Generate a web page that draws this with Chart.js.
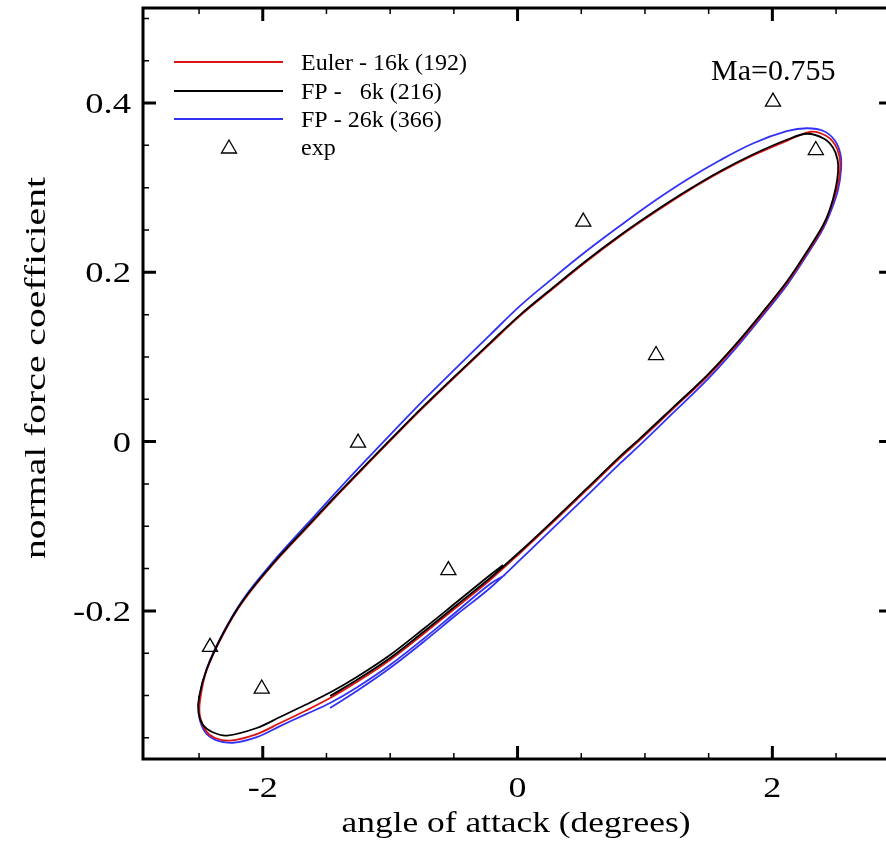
<!DOCTYPE html>
<html>
<head>
<meta charset="utf-8">
<script src="https://cdn.jsdelivr.net/npm/chart.js@4.4.1/dist/chart.umd.min.js"></script>
<style>
  html, body { margin: 0; padding: 0; background: #fff; overflow: hidden; }
  #wrap { width: 886px; height: 842px; }
</style>
</head>
<body>
<div id="wrap"><canvas id="loop" width="886" height="842"></canvas></div>
<script>
// values
const eulerAlpha = [-1.4717, -1.2622, -1.0008, -0.7394, -0.4772, -0.2159, 0.0196, 0.2810, 0.5432, 0.8046, 0.9616, 1.2206, 1.4874, 1.6915, 1.9035, 2.1154, 2.2724, 2.3980, 2.4529, 2.5078, 2.5314, 2.5275, 2.4922, 2.4215, 2.3038, 2.1130, 1.8509, 1.5895, 1.3281, 1.0659, 0.8046, 0.5432, 0.2810, 0.0196, -0.2159, -0.4772, -0.7394, -0.9929, -1.1578, -1.3933, -1.6546, -1.9168, -2.1523, -2.3093, -2.4396, -2.4921, -2.4921, -2.4451, -2.3744, -2.2567, -2.0471, -1.8642, -1.6680, -1.4717, -1.2622, -1.0008, -0.7394, -0.4772, -0.2159, -0.0981];
const eulerCn = [-0.3030, -0.2840, -0.2580, -0.2273, -0.1954, -0.1635, -0.1316, -0.0949, -0.0571, -0.0193, 0.0020, 0.0387, 0.0765, 0.1096, 0.1474, 0.1876, 0.2230, 0.2538, 0.2739, 0.2999, 0.3212, 0.3365, 0.3507, 0.3613, 0.3661, 0.3554, 0.3383, 0.3182, 0.2952, 0.2697, 0.2426, 0.2130, 0.1811, 0.1486, 0.1155, 0.0783, 0.0404, 0.0020, -0.0234, -0.0600, -0.1020, -0.1446, -0.1883, -0.2273, -0.2699, -0.3053, -0.3254, -0.3420, -0.3502, -0.3532, -0.3455, -0.3325, -0.3183, -0.3030, -0.2840, -0.2580, -0.2273, -0.1954, -0.1635, -0.1475];

const fp6Alpha = [-1.4717, -1.2622, -1.0008, -0.7394, -0.4772, -0.2159, 0.0196, 0.2810, 0.5432, 0.8046, 0.9616, 1.2206, 1.4874, 1.6915, 1.9035, 2.1154, 2.2724, 2.3980, 2.4529, 2.4961, 2.5157, 2.5118, 2.4765, 2.4058, 2.2724, 2.1130, 1.8509, 1.5895, 1.3281, 1.0659, 0.8046, 0.5432, 0.2810, 0.0196, -0.2159, -0.4772, -0.7394, -0.9929, -1.1578, -1.3933, -1.6546, -1.9168, -2.1523, -2.3093, -2.4396, -2.5000, -2.5039, -2.4686, -2.3980, -2.2802, -2.0471, -1.8642, -1.6680, -1.4717, -1.2622, -1.0008, -0.7394, -0.4772, -0.2159, -0.1138];
const fp6Cn = [-0.3006, -0.2817, -0.2557, -0.2249, -0.1930, -0.1611, -0.1298, -0.0931, -0.0553, -0.0175, 0.0038, 0.0404, 0.0783, 0.1113, 0.1492, 0.1894, 0.2248, 0.2556, 0.2751, 0.2987, 0.3188, 0.3330, 0.3472, 0.3578, 0.3637, 0.3566, 0.3395, 0.3194, 0.2963, 0.2709, 0.2437, 0.2142, 0.1823, 0.1498, 0.1167, 0.0794, 0.0416, 0.0032, -0.0222, -0.0589, -0.1008, -0.1434, -0.1871, -0.2261, -0.2687, -0.3018, -0.3207, -0.3349, -0.3431, -0.3473, -0.3384, -0.3254, -0.3112, -0.2965, -0.2781, -0.2521, -0.2214, -0.1895, -0.1576, -0.1457];

const fp26Alpha = [-1.4717, -1.2622, -1.0008, -0.7394, -0.4772, -0.2159, 0.0196, 0.2810, 0.5432, 0.8046, 0.9616, 1.2206, 1.4874, 1.6915, 1.9035, 2.1154, 2.2724, 2.3980, 2.4608, 2.5157, 2.5392, 2.5353, 2.4922, 2.4058, 2.2724, 2.1130, 1.8509, 1.5895, 1.3281, 1.0659, 0.8046, 0.5432, 0.2810, 0.0196, -0.2159, -0.4772, -0.7394, -0.9929, -1.1578, -1.3933, -1.6546, -1.9168, -2.1523, -2.3093, -2.4396, -2.5000, -2.5000, -2.4529, -2.3666, -2.2331, -2.0471, -1.8642, -1.6680, -1.4717, -1.2622, -1.0008, -0.7394, -0.4772, -0.2159, -0.0981];
const fp26Cn = [-0.3148, -0.2947, -0.2675, -0.2368, -0.2043, -0.1729, -0.1398, -0.1020, -0.0642, -0.0258, -0.0039, 0.0339, 0.0729, 0.1066, 0.1450, 0.1852, 0.2207, 0.2514, 0.2727, 0.2975, 0.3212, 0.3389, 0.3554, 0.3667, 0.3702, 0.3667, 0.3525, 0.3324, 0.3093, 0.2833, 0.2550, 0.2254, 0.1935, 0.1604, 0.1261, 0.0877, 0.0487, 0.0091, -0.0169, -0.0547, -0.0979, -0.1416, -0.1859, -0.2255, -0.2681, -0.3030, -0.3242, -0.3431, -0.3526, -0.3558, -0.3491, -0.3361, -0.3225, -0.3089, -0.2905, -0.2639, -0.2332, -0.2007, -0.1682, -0.1576];

const expAlpha = [2.005, 2.341, 0.516, 1.087, -1.252, -0.543, -2.414, -2.008];
const expCn = [0.4015, 0.3443, 0.2597, 0.1021, -0.0015, -0.152, -0.2427, -0.292];

const xMajorTicks = [-2, 0, 2];
const xTickLabels = ['-2', '0', '2'];
const xMinorTicks = [-2.5, -1.5, -1, -0.5, 0.5, 1, 1.5, 2.5];
const yMajorTicks = [-0.2, 0, 0.2, 0.4];
const yTickLabels = ['-0.2', '0', '0.2', '0.4'];
const yMinorTicks = [-0.35, -0.3, -0.25, -0.15, -0.1, -0.05, 0.05, 0.1, 0.15, 0.25, 0.3, 0.35, 0.45, 0.5];

const seriesNames = ['Euler - 16k (192)', 'FP -   6k (216)', 'FP - 26k (366)', 'exp'];

// the frame runs to 2.94 on the right, a little past the window edge
const X_FRAME_MAX = 2.94;

const RED = 'rgb(220, 20, 20)';
const BLUE = 'rgb(50, 50, 245)';
const SERIF = '"Liberation Serif", "Times New Roman", serif';

function toPoints(xs, ys) {
  return xs.map((x, i) => ({ x: x, y: ys[i] }));
}

function wideText(ctx, text, x, y, align, sx) {
  ctx.save();
  ctx.translate(x, y);
  ctx.scale(sx, 1);
  ctx.textAlign = align;
  ctx.fillText(text, 0, 0);
  ctx.restore();
}

// frame, inward ticks on every side, labels, titles and the legend
const decor = {
  id: 'decor',
  afterDraw(chart) {
    const ctx = chart.ctx;
    const a = chart.chartArea;
    const xs = chart.scales.x;
    const ys = chart.scales.y;
    const right = xs.getPixelForValue(X_FRAME_MAX);
    ctx.save();
    ctx.strokeStyle = '#000';
    ctx.fillStyle = '#000';
    ctx.lineCap = 'butt';

    function tickX(v, len, w) {
      const px = xs.getPixelForValue(v);
      ctx.lineWidth = w;
      ctx.beginPath();
      ctx.moveTo(px, a.bottom); ctx.lineTo(px, a.bottom - len);
      ctx.moveTo(px, a.top); ctx.lineTo(px, a.top + len);
      ctx.stroke();
    }
    function tickY(v, len, w) {
      const py = ys.getPixelForValue(v);
      ctx.lineWidth = w;
      ctx.beginPath();
      ctx.moveTo(a.left, py); ctx.lineTo(a.left + len, py);
      ctx.moveTo(right, py); ctx.lineTo(right - len, py);
      ctx.stroke();
    }
    xMinorTicks.forEach(v => tickX(v, 6, 1.5));
    xMajorTicks.forEach(v => tickX(v, 13, 3));
    yMinorTicks.forEach(v => tickY(v, 6, 1.5));
    yMajorTicks.forEach(v => tickY(v, 13, 3));

    ctx.lineWidth = 3;
    ctx.strokeRect(a.left, a.top, right - a.left, a.bottom - a.top);

    // tick labels
    ctx.font = '30px ' + SERIF;
    ctx.textBaseline = 'alphabetic';
    xMajorTicks.forEach((v, i) => {
      wideText(ctx, xTickLabels[i], xs.getPixelForValue(v), a.bottom + 38, 'center', 1.2);
    });
    yMajorTicks.forEach((v, i) => {
      wideText(ctx, yTickLabels[i], a.left - 12, ys.getPixelForValue(v) + 10, 'right', 1.22);
    });

    // axis titles
    wideText(ctx, 'angle of attack (degrees)', 516, 832, 'center', 1.18);
    ctx.save();
    ctx.translate(45, 368);
    ctx.rotate(-Math.PI / 2);
    ctx.scale(1.32, 1);
    ctx.textAlign = 'center';
    ctx.fillText('normal force coefficient', 0, 0);
    ctx.restore();

    // annotation
    ctx.textAlign = 'left';
    ctx.fillText('Ma=0.755', 711, 80);

    // legend
    const rows = [
      { y: 62, color: RED },
      { y: 91, color: '#000' },
      { y: 119, color: BLUE }
    ];
    ctx.font = '24px ' + SERIF;
    rows.forEach((r, i) => {
      ctx.strokeStyle = r.color;
      ctx.lineWidth = 2;
      ctx.beginPath();
      ctx.moveTo(174, r.y); ctx.lineTo(283, r.y);
      ctx.stroke();
      ctx.fillStyle = '#000';
      ctx.fillText(seriesNames[i], 301, r.y + 8);
    });
    ctx.strokeStyle = '#000';
    ctx.lineWidth = 1.3;
    ctx.beginPath();
    ctx.moveTo(229, 140);
    ctx.lineTo(236.5, 153);
    ctx.lineTo(221.5, 153);
    ctx.closePath();
    ctx.stroke();
    ctx.fillText(seriesNames[3], 301, 155);
    ctx.restore();
  }
};

const lineStyle = { showLine: true, pointRadius: 0, borderWidth: 1.8, tension: 0.35, fill: false };

new Chart(document.getElementById('loop'), {
  type: 'scatter',
  data: {
    datasets: [
      Object.assign({ label: seriesNames[0], data: toPoints(eulerAlpha, eulerCn), borderColor: RED, order: 2 }, lineStyle),
      Object.assign({ label: seriesNames[1], data: toPoints(fp6Alpha, fp6Cn), borderColor: '#000', order: 1 }, lineStyle),
      Object.assign({ label: seriesNames[2], data: toPoints(fp26Alpha, fp26Cn), borderColor: BLUE, order: 3 }, lineStyle),
      {
        label: seriesNames[3],
        data: toPoints(expAlpha, expCn),
        showLine: false,
        pointStyle: 'triangle',
        pointRadius: 8.7,
        pointBorderWidth: 1.3,
        pointBorderColor: '#000',
        pointBackgroundColor: 'rgba(0,0,0,0)',
        order: 0
      }
    ]
  },
  options: {
    responsive: false,
    animation: false,
    layout: { autoPadding: false, padding: { left: 143, top: 8, right: 0, bottom: 83 } },
    plugins: { legend: { display: false }, tooltip: { enabled: false } },
    scales: {
      x: { type: 'linear', display: false, min: -2.94, max: 2.892 },
      y: { type: 'linear', display: false, min: -0.375, max: 0.5123 }
    }
  },
  plugins: [decor]
});
</script>
</body>
</html>
